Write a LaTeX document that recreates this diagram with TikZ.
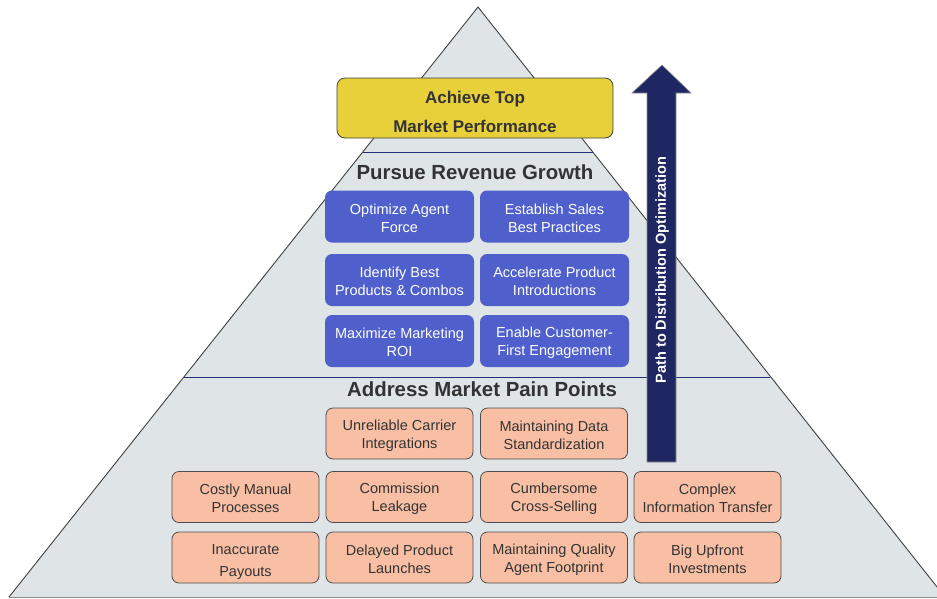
\documentclass[tikz,border=0pt]{standalone}
\usepackage{fontspec}
\setmainfont{Liberation Sans}
\definecolor{pyrfill}{HTML}{DFE4E7}
\definecolor{goldfill}{HTML}{E8D03A}
\definecolor{bluefill}{HTML}{4F5FCB}
\definecolor{salmon}{HTML}{F8BFA5}
\definecolor{navy}{HTML}{1F2763}
\definecolor{tierline}{HTML}{22307A}
\definecolor{txt}{HTML}{333333}
\begin{document}
\begin{tikzpicture}[x=1pt,y=-1pt,
  goalbox/.style={draw=black!75, fill=goldfill, rounded corners=8pt, line width=0.8pt,
    minimum width=276pt, minimum height=60pt, inner sep=0pt, align=center, text=txt,
    text height=49pt, font=\bfseries\fontsize{17}{29}\selectfont},
  growbox/.style={draw=none, fill=bluefill, rounded corners=7pt,
    minimum width=149pt, minimum height=52pt, inner sep=0pt, align=center, text=white,
    text height=32pt, font=\fontsize{14.5}{18}\selectfont},
  painbox/.style={draw=black!70, fill=salmon, rounded corners=7pt, line width=0.8pt,
    minimum width=147pt, minimum height=51pt, inner sep=0pt, align=center, text=txt,
    text height=32pt, font=\fontsize{14.5}{18}\selectfont},
  tiertitle/.style={text=txt, inner sep=0pt, font=\bfseries\fontsize{20.4}{24}\selectfont},
  tierrule/.style={draw=tierline, line width=1pt}]
\useasboundingbox (0,0) rectangle (937,598);

% pyramid body
\begin{scope}
  \clip (0,0) rectangle (937,598);
  \coordinate (apex) at (478,7);
  \coordinate (bl) at (9,597);
  \coordinate (br) at (945,597);
  \fill[pyrfill] (apex) -- (bl) -- (br) -- cycle;
  \draw[black!75, line width=0.9pt] (bl) -- (apex) -- (br);
  \draw[black!45, line width=0.9pt] (bl) -- (br);
  % tier separators
  \coordinate (t1l) at (363,152);
  \coordinate (t1r) at (593,152);
  \coordinate (t2l) at (184,377);
  \coordinate (t2r) at (770,377);
  \draw[tierrule] (t1l) -- (t1r);
  \draw[tierrule] (t2l) -- (t2r);
\end{scope}

% top tier
\node[goalbox] (goal) at (475,108) {Achieve Top\\Market Performance};

% middle tier
\node[tiertitle] (growth) at (475,172) {Pursue Revenue Growth};
\node[growbox] (g11) at (399.5,216.5) {Optimize Agent\\Force};
\node[growbox] (g12) at (554.5,216.5) {Establish Sales\\Best Practices};
\node[growbox] (g21) at (399.5,280) {Identify Best\\Products \& Combos};
\node[growbox] (g22) at (554.5,280) {Accelerate Product\\Introductions};
\node[growbox] (g31) at (399.5,341) {Maximize Marketing\\ROI};
\node[growbox] (g32) at (554.5,341) {Enable Customer-\\First Engagement};

% bottom tier
\node[tiertitle] (pain) at (482,389) {Address Market Pain Points};
\node[painbox] (p12) at (399.5,433.5) {Unreliable Carrier\\Integrations};
\node[painbox] (p13) at (554,433.5) {Maintaining Data\\Standardization};
\node[painbox] (p21) at (245.5,497) {Costly Manual\\Processes};
\node[painbox] (p22) at (399.5,497) {Commission\\Leakage};
\node[painbox] (p23) at (554,497) {Cumbersome\\Cross-Selling};
\node[painbox] (p24) at (707.5,497) {Complex\\Information Transfer};
\node[painbox, text height=40pt] (p31) at (245.5,557.5) {Inaccurate\\[4pt]Payouts};
\node[painbox] (p32) at (399.5,557.5) {Delayed Product\\Launches};
\node[painbox] (p33) at (554,557.5) {Maintaining Quality\\Agent Footprint};
\node[painbox] (p34) at (707.5,557.5) {Big Upfront\\Investments};

% upward arrow
\draw[fill=navy, draw=black!45, line width=0.6pt]
  (647,462) -- (647,93) -- (632,93) -- (662,65) -- (691,93) -- (676,93) -- (676,462) -- cycle;
\node[rotate=90, text=white, inner sep=0pt, font=\bfseries\fontsize{14.5}{17}\selectfont]
  (path) at (662,270) {Path to Distribution Optimization};
\end{tikzpicture}
\end{document}
